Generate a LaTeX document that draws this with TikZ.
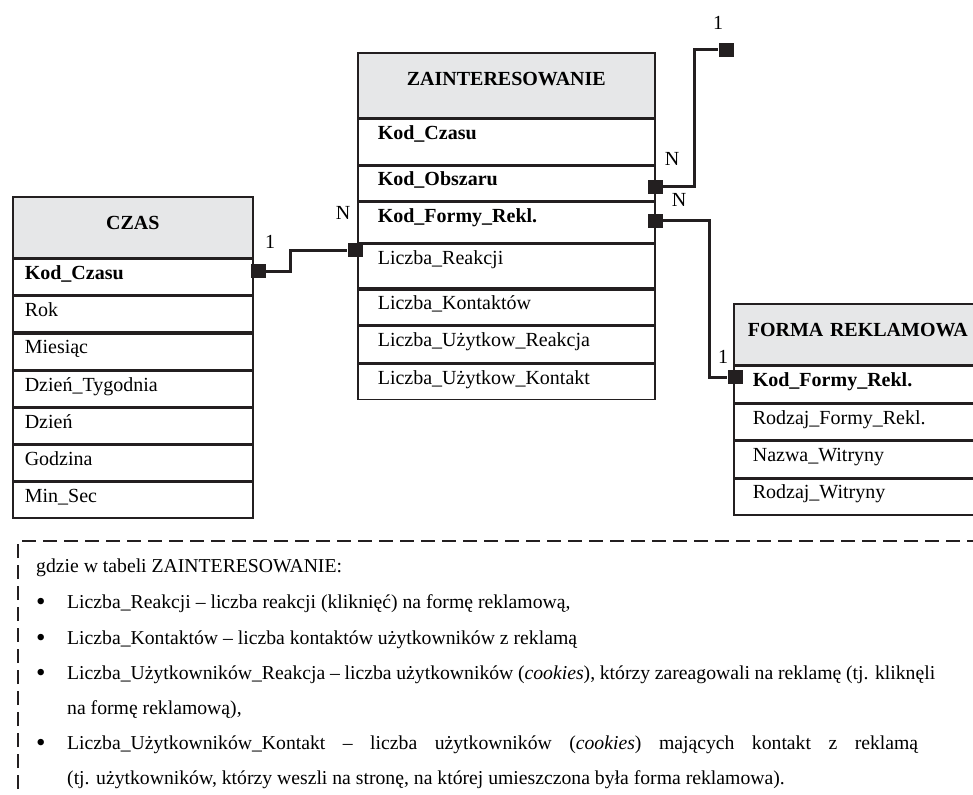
\documentclass[tikz,border=0pt]{standalone}
\usepackage{fontspec}
\setmainfont{Liberation Serif}
\usepackage{tikz}
\usetikzlibrary{positioning}
\definecolor{hdrgray}{HTML}{E6E7E8}
\definecolor{inkblack}{HTML}{231F20}

\tikzset{
  tblhead/.style={draw=inkblack, fill=hdrgray, line width=1.6pt, inner xsep=0pt, inner ysep=0pt,
    text height=32.5pt, align=center, font=\fontsize{20}{23}\selectfont\bfseries},
  tblrow/.style={draw=inkblack, line width=1.6pt, inner ysep=0pt, text height=20pt,
    align=left, font=\fontsize{20}{23}\selectfont},
  keyrow/.style={tblrow, font=\fontsize{20}{23}\selectfont\bfseries},
  sq/.style={fill=inkblack, minimum width=15pt, minimum height=14pt, inner sep=0pt},
  conn/.style={draw=inkblack, line width=3pt},
  card/.style={font=\fontsize{20}{23}\selectfont, inner sep=0pt},
  note/.style={anchor=base west, inner sep=0pt, font=\fontsize{19.7}{23}\selectfont},
  dot/.style={anchor=base west, inner sep=0pt, font=\fontsize{27}{27}\selectfont}
}

\begin{document}
\begin{tikzpicture}[x=1pt, y=-1pt]
  \useasboundingbox (0,0) rectangle (973,794);

  % CZAS
  \node[tblhead, text width=240pt, text depth=28.5pt, anchor=north west] (czas) at (12,196) {CZAS};
  \node[keyrow, inner xsep=12pt, text width=216pt, text depth=15.6pt, below=0pt of czas] (czas1) {Kod\_Czasu};
  \node[tblrow, inner xsep=12pt, text width=216pt, text depth=15.6pt, below=0pt of czas1] (czas2) {Rok};
  \node[tblrow, inner xsep=12pt, text width=216pt, text depth=15.6pt, below=0pt of czas2] (czas3) {Miesiąc};
  \node[tblrow, inner xsep=12pt, text width=216pt, text depth=15.6pt, below=0pt of czas3] (czas4) {Dzień\_Tygodnia};
  \node[tblrow, inner xsep=12pt, text width=216pt, text depth=15.6pt, below=0pt of czas4] (czas5) {Dzień};
  \node[tblrow, inner xsep=12pt, text width=216pt, text depth=15.6pt, below=0pt of czas5] (czas6) {Godzina};
  \node[tblrow, inner xsep=12pt, text width=216pt, text depth=15.6pt, below=0pt of czas6] (czas7) {Min\_Sec};

  % ZAINTERESOWANIE
  \node[tblhead, text width=297pt, text depth=32.5pt, anchor=north west] (zain) at (357,52) {ZAINTERESOWANIE};
  \node[keyrow, inner xsep=20pt, text width=257pt, text depth=25pt, below=0pt of zain] (zain1) {Kod\_Czasu};
  \node[keyrow, inner xsep=20pt, text width=257pt, text depth=15pt, below=0pt of zain1] (zain2) {Kod\_Obszaru};
  \node[keyrow, inner xsep=20pt, text width=257pt, text depth=20pt, below=0pt of zain2] (zain3) {Kod\_Formy\_Rekl.};
  \node[tblrow, inner xsep=20pt, text width=257pt, text depth=24pt, below=0pt of zain3] (zain4) {Liczba\_Reakcji};
  \node[tblrow, inner xsep=20pt, text width=257pt, text depth=15pt, below=0pt of zain4] (zain5) {Liczba\_Kontaktów};
  \node[tblrow, inner xsep=20pt, text width=257pt, text depth=16pt, below=0pt of zain5] (zain6) {Liczba\_Użytkow\_Reakcja};
  \node[tblrow, inner xsep=20pt, text width=257pt, text depth=15.5pt, below=0pt of zain6] (zain7) {Liczba\_Użytkow\_Kontakt};

  % FORMA REKLAMOWA
  \node[tblhead, text width=248pt, text depth=28.5pt, anchor=north west] (forma) at (733,303) {FORMA REKLAMOWA};
  \node[keyrow, inner xsep=19pt, text width=210pt, text depth=16pt, below=0pt of forma] (forma1) {Kod\_Formy\_Rekl.};
  \node[tblrow, inner xsep=19pt, text width=210pt, text depth=16pt, below=0pt of forma1] (forma2) {Rodzaj\_Formy\_Rekl.};
  \node[tblrow, inner xsep=19pt, text width=210pt, text depth=15.7pt, below=0pt of forma2] (forma3) {Nazwa\_Witryny};
  \node[tblrow, inner xsep=19pt, text width=210pt, text depth=16pt, below=0pt of forma3] (forma4) {Rodzaj\_Witryny};

  % relationships
  \node[sq] (sqczas) at (258,271) {};
  \node[sq] (sqreak) at (355,250) {};
  \node[sq] (sqobsz) at (655,187) {};
  \node[sq] (sqtop) at (726,50) {};
  \node[sq] (sqform) at (655,221) {};
  \node[sq] (sqforma) at (735,377) {};
  \draw[conn] (sqczas) -- (290,271) |- (sqreak);
  \draw[conn] (sqobsz) -- (694,187) |- (sqtop);
  \draw[conn] (sqform) -- (709,221) |- (sqforma);

  \node[card] (c1) at (270,242) {1};
  \node[card] (cN1) at (343,213) {N};
  \node[card] (c2) at (718,23) {1};
  \node[card] (cN2) at (672,159) {N};
  \node[card] (cN3) at (679,200) {N};
  \node[card] (c3) at (723,357) {1};

  % legend
  \draw[inkblack, line width=1.6pt, dash pattern=on 14pt off 7pt] (18,810) -- (18,541) -- (990,541);
  \node[note] (n0) at (36,572) {gdzie w tabeli ZAINTERESOWANIE:};
  \foreach \y [count=\i] in {610,646,681,751}
    \node[dot] (dot\i) at (36,\y) {\textbullet};
  \node[note] (n1) at (67,608) {Liczba\_Reakcji – liczba reakcji (kliknięć) na formę reklamową,};
  \node[note] (n2) at (67,644) {Liczba\_Kontaktów – liczba kontaktów użytkowników z reklamą};
  \node[note] (n3) at (67,679) {\makebox[868pt][s]{Liczba\_Użytkowników\_Reakcja – liczba użytkowników (\textit{cookies}), którzy zareagowali na reklamę (tj. kliknęli}};
  \node[note] (n4) at (67,714) {na formę reklamową),};
  \node[note] (n5) at (67,749) {\makebox[851pt][s]{Liczba\_Użytkowników\_Kontakt – liczba użytkowników (\textit{cookies}) mających kontakt z reklamą}};
  \node[note] (n6) at (67,784) {(tj. użytkowników, którzy weszli na stronę, na której umieszczona była forma reklamowa).};
\end{tikzpicture}
\end{document}
